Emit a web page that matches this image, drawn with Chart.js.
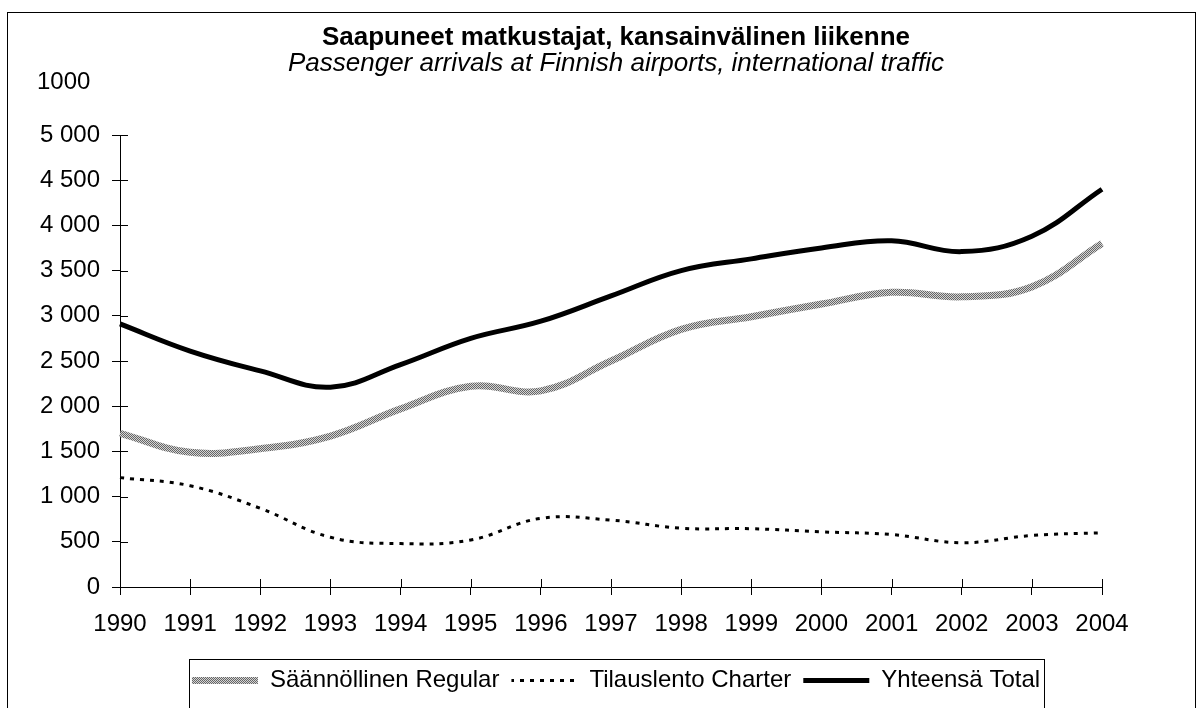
<!DOCTYPE html>
<html>
<head>
<meta charset="utf-8">
<script src="https://cdn.jsdelivr.net/npm/chart.js@4/dist/chart.umd.min.js"></script>
<style>
  body { margin: 0; background: #fff; }
  canvas { display: block; }
</style>
</head>
<body>
<canvas id="arrivalsChart" width="1202" height="708"></canvas>
<script>
var years = ['1990', '1991', '1992', '1993', '1994', '1995', '1996', '1997',
             '1998', '1999', '2000', '2001', '2002', '2003', '2004'];
var regular = [1700, 1490, 1530, 1670, 1970, 2220, 2170, 2500, 2850, 2990, 3130, 3260, 3210, 3320, 3800];
var charter = [1210, 1120, 870, 550, 480, 520, 760, 740, 650, 645, 610, 580, 490, 570, 600];
var total = [2910, 2610, 2390, 2210, 2460, 2750, 2940, 3220, 3500, 3630, 3750, 3830, 3710, 3880, 4400];
var yTickLabels = ['0', '500', '1 000', '1 500', '2 000', '2 500', '3 000', '3 500', '4 000', '4 500', '5 000'];
var unitLabel = '1000';

// grey stippled stroke like the scanned "Regular" line
function makeHatch() {
    var c = document.createElement('canvas');
    c.width = 2; c.height = 2;
    var g = c.getContext('2d');
    g.fillStyle = '#d4d4d4';
    g.fillRect(0, 0, 2, 2);
    g.fillStyle = '#666';
    g.fillRect(0, 0, 1, 1);
    g.fillRect(1, 1, 1, 1);
    return g.createPattern(c, 'repeat');
}

// legend point styles ignore borderDash, so fake the dashes with a pattern
function makeDash() {
    var c = document.createElement('canvas');
    c.width = 10; c.height = 8;
    var g = c.getContext('2d');
    g.fillStyle = '#000';
    g.fillRect(0, 0, 4, 8);
    return g.createPattern(c, 'repeat');
}

var extras = {
    id: 'extras',
    afterDraw: function(chart) {
        var ctx = chart.ctx;
        var xs = chart.scales.x, ys = chart.scales.y;
        var area = chart.chartArea;
        ctx.save();
        ctx.strokeStyle = '#000';
        ctx.lineWidth = 1;
        ctx.beginPath();
        // inner halves of the crossing tick marks
        for (var i = 0; i < ys.ticks.length; i++) {
            var py = Math.round(ys.getPixelForTick(i)) + 0.5;
            ctx.moveTo(area.left, py);
            ctx.lineTo(area.left + 8, py);
        }
        for (var j = 0; j < xs.ticks.length; j++) {
            var px = Math.round(xs.getPixelForTick(j)) + 0.5;
            ctx.moveTo(px, area.bottom);
            ctx.lineTo(px, area.bottom - 8);
        }
        ctx.stroke();

        // outer frame
        ctx.strokeRect(7.5, 12.5, 1188, 720);

        // legend frame
        var boxes = chart.legend.legendHitBoxes;
        if (boxes && boxes.length) {
            var first = boxes[0], last = boxes[boxes.length - 1];
            var l = Math.round(first.left - 3) + 0.5;
            var r = Math.round(last.left + last.width + 4) + 0.5;
            ctx.strokeRect(l, 659.5, r - l, 80);
        }

        // unit label
        ctx.fillStyle = '#000';
        ctx.font = '24px "Liberation Sans", Arial, sans-serif';
        ctx.textAlign = 'left';
        ctx.textBaseline = 'middle';
        ctx.fillText(unitLabel, 37, 82);
        ctx.restore();
    }
};

document.addEventListener('DOMContentLoaded', function() {
    var canvas = document.getElementById('arrivalsChart');
    var ctx = canvas.getContext('2d');
    Chart.defaults.font.family = '"Liberation Sans", Arial, sans-serif';
    Chart.defaults.color = '#000';
    var dashPattern = makeDash();

    new Chart(ctx, {
        type: 'line',
        data: {
            labels: years,
            datasets: [{
                label: 'Säännöllinen Regular',
                data: regular,
                borderColor: makeHatch(),
                borderWidth: 7,
                tension: 0.4,
                pointRadius: 0
            }, {
                label: 'Tilauslento Charter',
                data: charter,
                borderColor: '#000',
                borderWidth: 3,
                borderDash: [4, 6],
                tension: 0.4,
                pointRadius: 0
            }, {
                label: 'Yhteensä Total',
                data: total,
                borderColor: '#000',
                borderWidth: 5,
                tension: 0.4,
                pointRadius: 0
            }]
        },
        options: {
            responsive: false,
            animation: false,
            layout: { padding: { left: 30, right: 0, top: 0, bottom: 5.5 } },
            plugins: {
                title: {
                    display: true,
                    text: 'Saapuneet matkustajat, kansainvälinen liikenne',
                    font: { size: 26, weight: 'bold', lineHeight: 1 },
                    padding: { top: 24.5, bottom: 0 }
                },
                subtitle: {
                    display: true,
                    text: 'Passenger arrivals at Finnish airports, international traffic',
                    font: { size: 26, style: 'italic', lineHeight: 1 },
                    color: '#000',
                    padding: { top: 0, bottom: 58.5 }
                },
                legend: {
                    position: 'bottom',
                    labels: {
                        usePointStyle: true,
                        pointStyle: 'line',
                        pointStyleWidth: 66,
                        padding: 12,
                        font: { size: 24 },
                        generateLabels: function(chart) {
                            var items = Chart.defaults.plugins.legend.labels.generateLabels(chart);
                            items[1].strokeStyle = dashPattern;
                            return items;
                        }
                    }
                },
                tooltip: { enabled: false }
            },
            scales: {
                x: {
                    offset: false,
                    grid: { drawOnChartArea: false, tickLength: 8, color: '#000' },
                    border: { color: '#000', width: 1 },
                    ticks: { font: { size: 24 }, padding: 15, maxRotation: 0, autoSkip: false },
                    afterFit: function(scale) { scale.height = 69.5; }
                },
                y: {
                    min: 0,
                    max: 5000,
                    grid: { drawOnChartArea: false, tickLength: 8, color: '#000' },
                    border: { color: '#000', width: 1 },
                    ticks: {
                        stepSize: 500,
                        font: { size: 24 },
                        padding: 12,
                        callback: function(v, i) { return yTickLabels[i]; }
                    },
                    afterFit: function(scale) { scale.width = 90; }
                },
                y2: {
                    position: 'right',
                    grid: { display: false },
                    border: { display: false },
                    ticks: { display: false },
                    afterFit: function(scale) { scale.width = 100; }
                }
            }
        },
        plugins: [extras]
    });
});
</script>
</body>
</html>
